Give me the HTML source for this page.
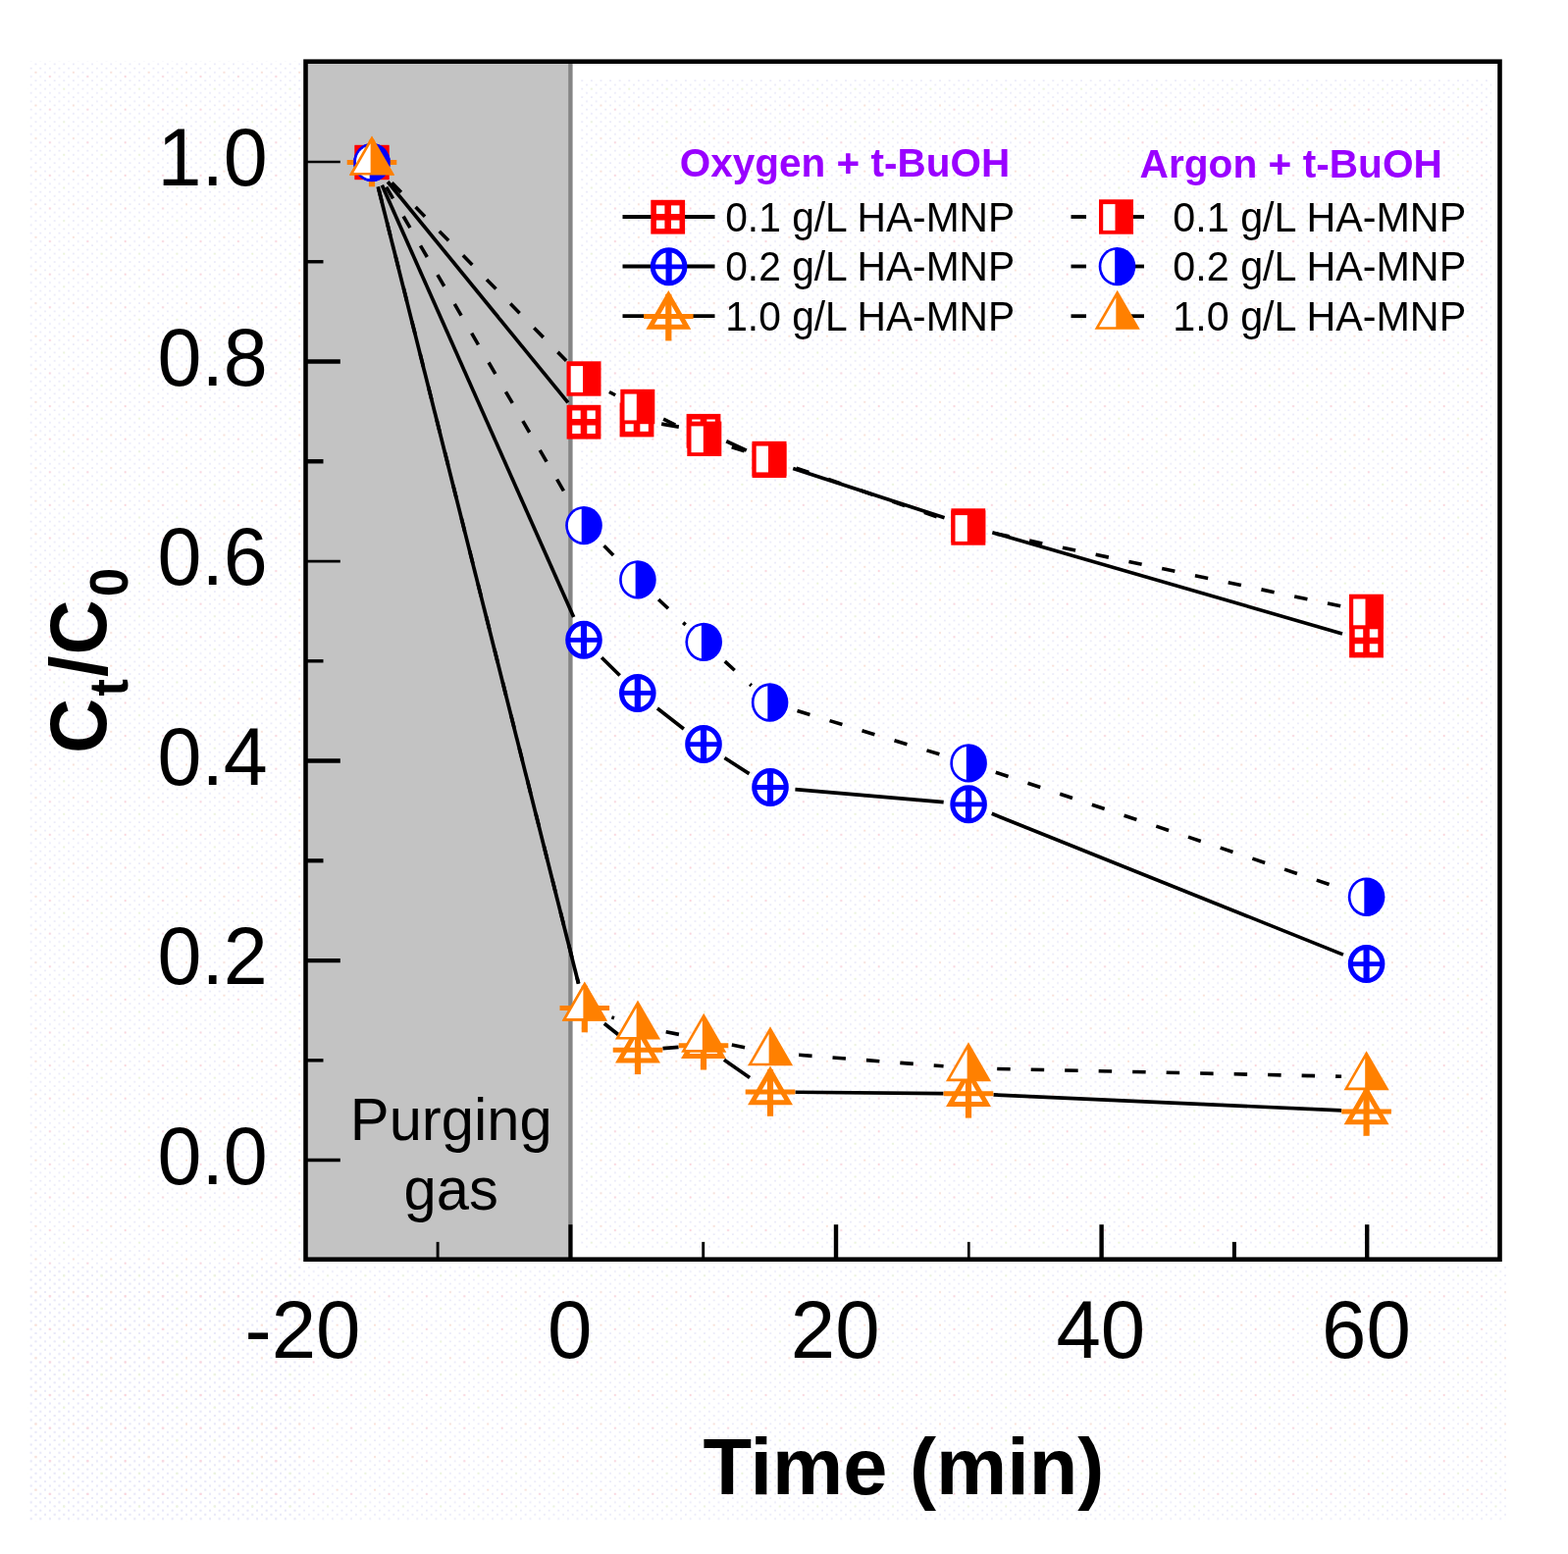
<!DOCTYPE html>
<html lang="en">
<head>
<meta charset="utf-8">
<title>Ct/C0 vs Time - HA-MNP with t-BuOH</title>
<style>
html,body{margin:0;padding:0;background:#fff;}
body{width:1598px;height:1584px;overflow:hidden;}
svg{display:block;}
</style>
</head>
<body>
<svg width="1598" height="1584" viewBox="0 0 1598 1584" role="img" aria-label="Ct/C0 versus time for HA-MNP with t-BuOH under oxygen and argon">
<rect x="0" y="0" width="1598" height="1584" fill="#ffffff"/>
<defs><pattern id="dots" width="9.6" height="8.4" patternUnits="userSpaceOnUse"><rect x="2" y="1.6" width="1.7" height="1.7" fill="#e7e7f8"/><rect x="6.8" y="5.8" width="1.7" height="1.7" fill="#e7e7f8"/></pattern><pattern id="dots2" width="38.4" height="33.6" patternUnits="userSpaceOnUse"><rect x="11.6" y="10" width="1.7" height="1.7" fill="#ffd0d6"/><rect x="26" y="22.6" width="1.7" height="1.7" fill="#ecf8d4"/><rect x="35.6" y="5.8" width="1.7" height="1.7" fill="#ffe0d0"/></pattern></defs>
<rect x="28" y="62" width="281" height="1489" fill="url(#dots)"/>
<rect x="28" y="62" width="281" height="1489" fill="url(#dots2)"/>
<rect x="28" y="1290" width="1507" height="261" fill="url(#dots)"/>
<rect x="28" y="1290" width="1507" height="261" fill="url(#dots2)"/>
<rect x="590" y="80" width="930" height="1192" fill="url(#dots)"/>
<rect x="590" y="80" width="930" height="1192" fill="url(#dots2)"/>
<rect x="311.5" y="62.7" width="269.9" height="1221" fill="#c3c3c3"/>
<line x1="581.4" y1="62.7" x2="581.4" y2="1283.7" stroke="#858585" stroke-width="4.4"/>
<g stroke="#000" fill="none">
<line x1="446.1" y1="1283.7" x2="446.1" y2="1265.9" stroke-width="2.9"/>
<line x1="581.4" y1="1283.7" x2="581.4" y2="1248.2" stroke-width="4.1"/>
<line x1="716.7" y1="1283.7" x2="716.7" y2="1265.9" stroke-width="2.9"/>
<line x1="852" y1="1283.7" x2="852" y2="1248.2" stroke-width="4.4"/>
<line x1="987.3" y1="1283.7" x2="987.3" y2="1265.9" stroke-width="2.7"/>
<line x1="1122.6" y1="1283.7" x2="1122.6" y2="1248.2" stroke-width="4.4"/>
<line x1="1257.9" y1="1283.7" x2="1257.9" y2="1265.9" stroke-width="4.0"/>
<line x1="1393.2" y1="1283.7" x2="1393.2" y2="1248.2" stroke-width="4.4"/>
<line x1="311.5" y1="1182.6" x2="346.8" y2="1182.6" stroke-width="3.5"/>
<line x1="311.5" y1="1080.84" x2="329.5" y2="1080.84" stroke-width="3.4"/>
<line x1="311.5" y1="979.08" x2="346.8" y2="979.08" stroke-width="4.4"/>
<line x1="311.5" y1="877.32" x2="329.5" y2="877.32" stroke-width="4.2"/>
<line x1="311.5" y1="775.56" x2="346.8" y2="775.56" stroke-width="4.6"/>
<line x1="311.5" y1="673.8" x2="329.5" y2="673.8" stroke-width="3.4"/>
<line x1="311.5" y1="572.04" x2="346.8" y2="572.04" stroke-width="2.7"/>
<line x1="311.5" y1="470.28" x2="329.5" y2="470.28" stroke-width="4.4"/>
<line x1="311.5" y1="368.52" x2="346.8" y2="368.52" stroke-width="4.6"/>
<line x1="311.5" y1="266.76" x2="329.5" y2="266.76" stroke-width="3.4"/>
<line x1="311.5" y1="165" x2="346.8" y2="165" stroke-width="2.7"/>
</g>
<rect x="311.5" y="62.7" width="1217" height="1221" fill="none" stroke="#000" stroke-width="4.6"/>
<g stroke="#000" stroke-width="3.7" fill="none" stroke-linecap="butt">
<line x1="395.12" y1="185.26" x2="578.88" y2="410.44"/>
<line x1="674.16" y1="432.18" x2="691.84" y2="435.12"/>
<line x1="740.23" y1="449.81" x2="760.77" y2="459.09"/>
<line x1="808.24" y1="477.5" x2="962.56" y2="527.8"/>
<line x1="1011.3" y1="542.78" x2="1368" y2="645.92"/>
<line x1="389.34" y1="188.81" x2="584.66" y2="628.99"/>
<line x1="613.15" y1="670.21" x2="631.65" y2="688.49"/>
<line x1="669.94" y1="722.04" x2="696.86" y2="742.96"/>
<line x1="738.42" y1="772.43" x2="763.58" y2="788.67"/>
<line x1="810.41" y1="804.67" x2="961.69" y2="817.63"/>
<line x1="1010.76" y1="829.3" x2="1368.94" y2="973.1"/>
<line x1="385.22" y1="190.23" x2="589.58" y2="1002.77"/>
<line x1="615.81" y1="1043.3" x2="629.99" y2="1054.5"/>
<line x1="675.44" y1="1068.55" x2="691.56" y2="1067.45"/>
<line x1="737.93" y1="1080.26" x2="764.07" y2="1098.44"/>
<line x1="810.5" y1="1113.23" x2="961.5" y2="1114.57"/>
<line x1="1012.47" y1="1115.94" x2="1367.13" y2="1131.86"/>
<line x1="396.84" y1="183.72" x2="577.16" y2="367.78" stroke-dasharray="13.5 21" stroke-dashoffset="-3.7" stroke-width="3.6"/>
<line x1="617.62" y1="397.77" x2="627.18" y2="402.73" stroke-dasharray="13.5 21" stroke-dashoffset="-3.7" stroke-width="3.6"/>
<line x1="672.77" y1="425.58" x2="694.83" y2="436.22" stroke-dasharray="13.5 21" stroke-dashoffset="-3.7" stroke-width="3.6"/>
<line x1="742.19" y1="454.74" x2="759.61" y2="460.06" stroke-dasharray="13.5 21" stroke-dashoffset="-3.7" stroke-width="3.6"/>
<line x1="808.09" y1="475.87" x2="962.71" y2="529.63" stroke-dasharray="13.5 21" stroke-dashoffset="-3.7" stroke-width="3.6"/>
<line x1="1011.75" y1="543.25" x2="1367.55" y2="618.15" stroke-dasharray="13.5 21" stroke-dashoffset="-3.7" stroke-width="3.6"/>
<line x1="391.85" y1="187.52" x2="582.15" y2="513.58" stroke-dasharray="13.5 21" stroke-dashoffset="-3.7" stroke-width="3.6"/>
<line x1="612.97" y1="553.7" x2="631.93" y2="572.8" stroke-dasharray="13.5 21" stroke-dashoffset="-3.7" stroke-width="3.6"/>
<line x1="668.45" y1="608.4" x2="698.65" y2="636.9" stroke-dasharray="13.5 21" stroke-dashoffset="-3.7" stroke-width="3.6"/>
<line x1="736.02" y1="671.6" x2="765.78" y2="698.8" stroke-dasharray="13.5 21" stroke-dashoffset="-3.7" stroke-width="3.6"/>
<line x1="808.99" y1="723.45" x2="962.71" y2="770.45" stroke-dasharray="13.5 21" stroke-dashoffset="-3.7" stroke-width="3.6"/>
<line x1="1011.27" y1="786.02" x2="1368.43" y2="906.08" stroke-dasharray="13.5 21" stroke-dashoffset="-3.7" stroke-width="3.6"/>
<line x1="385.22" y1="189.93" x2="589.58" y2="1002.47" stroke-dasharray="13.5 21" stroke-dashoffset="-3.7" stroke-width="3.6"/>
<line x1="619.86" y1="1035.64" x2="625.94" y2="1037.76" stroke-dasharray="13.5 21" stroke-dashoffset="-3.7" stroke-width="3.6"/>
<line x1="675.03" y1="1051.08" x2="692.17" y2="1054.42" stroke-dasharray="13.5 21" stroke-dashoffset="-3.7" stroke-width="3.6"/>
<line x1="742.19" y1="1064.35" x2="760.01" y2="1067.95" stroke-dasharray="13.5 21" stroke-dashoffset="-3.7" stroke-width="3.6"/>
<line x1="810.42" y1="1074.99" x2="961.58" y2="1086.81" stroke-dasharray="13.5 21" stroke-dashoffset="-3.7" stroke-width="3.6"/>
<line x1="1012.49" y1="1089.37" x2="1367.11" y2="1097.23" stroke-dasharray="13.5 21" stroke-dashoffset="-3.7" stroke-width="3.6"/>
</g>
<g stroke="#ff0000" fill="#fff"><rect x="364.4" y="150.9" width="29.2" height="29.2" stroke-width="5.6"/><path d="M364.4 165.5H393.6M379 150.9V180.1" fill="none" stroke-width="6.6"/></g>
<g stroke="#ff0000" fill="#fff"><rect x="580.4" y="415.6" width="29.2" height="29.2" stroke-width="5.6"/><path d="M580.4 430.2H609.6M595 415.6V444.8" fill="none" stroke-width="6.6"/></g>
<g stroke="#ff0000" fill="#fff"><rect x="634.4" y="413.4" width="29.2" height="29.2" stroke-width="5.6"/><path d="M634.4 428H663.6M649 413.4V442.6" fill="none" stroke-width="6.6"/></g>
<g stroke="#ff0000" fill="#fff"><rect x="702.4" y="424.7" width="29.2" height="29.2" stroke-width="5.6"/><path d="M702.4 439.3H731.6M717 424.7V453.9" fill="none" stroke-width="6.6"/></g>
<g stroke="#ff0000" fill="#fff"><rect x="769.4" y="455" width="29.2" height="29.2" stroke-width="5.6"/><path d="M769.4 469.6H798.6M784 455V484.2" fill="none" stroke-width="6.6"/></g>
<g stroke="#ff0000" fill="#fff"><rect x="972.2" y="521.1" width="29.2" height="29.2" stroke-width="5.6"/><path d="M972.2 535.7H1001.4M986.8 521.1V550.3" fill="none" stroke-width="6.6"/></g>
<g stroke="#ff0000" fill="#fff"><rect x="1377.9" y="638.4" width="29.2" height="29.2" stroke-width="5.6"/><path d="M1377.9 653H1407.1M1392.5 638.4V667.6" fill="none" stroke-width="6.6"/></g>
<g stroke="#0000ff" fill="#fff"><ellipse cx="379" cy="165.5" rx="16.3" ry="17" stroke-width="5.0"/><path d="M379 149.2V181.8" fill="none" stroke-width="6.2"/><path d="M362.7 165.5H395.3" fill="none" stroke-width="4.8"/></g>
<g stroke="#0000ff" fill="#fff"><ellipse cx="595" cy="652.3" rx="16.3" ry="17" stroke-width="5.0"/><path d="M595 636V668.6" fill="none" stroke-width="6.2"/><path d="M578.7 652.3H611.3" fill="none" stroke-width="4.8"/></g>
<g stroke="#0000ff" fill="#fff"><ellipse cx="649.8" cy="706.4" rx="16.3" ry="17" stroke-width="5.0"/><path d="M649.8 690.1V722.7" fill="none" stroke-width="6.2"/><path d="M633.5 706.4H666.1" fill="none" stroke-width="4.8"/></g>
<g stroke="#0000ff" fill="#fff"><ellipse cx="717" cy="758.6" rx="16.3" ry="17" stroke-width="5.0"/><path d="M717 742.3V774.9" fill="none" stroke-width="6.2"/><path d="M700.7 758.6H733.3" fill="none" stroke-width="4.8"/></g>
<g stroke="#0000ff" fill="#fff"><ellipse cx="785" cy="802.5" rx="16.3" ry="17" stroke-width="5.0"/><path d="M785 786.2V818.8" fill="none" stroke-width="6.2"/><path d="M768.7 802.5H801.3" fill="none" stroke-width="4.8"/></g>
<g stroke="#0000ff" fill="#fff"><ellipse cx="987.1" cy="819.8" rx="16.3" ry="17" stroke-width="5.0"/><path d="M987.1 803.5V836.1" fill="none" stroke-width="6.2"/><path d="M970.8 819.8H1003.4" fill="none" stroke-width="4.8"/></g>
<g stroke="#0000ff" fill="#fff"><ellipse cx="1392.6" cy="982.6" rx="16.3" ry="17" stroke-width="5.0"/><path d="M1392.6 966.3V998.9" fill="none" stroke-width="6.2"/><path d="M1376.3 982.6H1408.9" fill="none" stroke-width="4.8"/></g>
<g stroke="#ff8000" fill="#fff" stroke-linejoin="miter"><polygon points="379,143.96 360.35,176.27 397.65,176.27" stroke-width="5.0"/><path d="M379 142.7V190.3" fill="none" stroke-width="6.2"/><path d="M353.7 165.5H404.3" fill="none" stroke-width="5"/></g>
<g stroke="#ff8000" fill="#fff" stroke-linejoin="miter"><polygon points="595.8,1005.96 577.15,1038.27 614.45,1038.27" stroke-width="5.0"/><path d="M595.8 1004.7V1052.3" fill="none" stroke-width="6.2"/><path d="M570.5 1027.5H621.1" fill="none" stroke-width="5"/></g>
<g stroke="#ff8000" fill="#fff" stroke-linejoin="miter"><polygon points="650,1048.76 631.35,1081.07 668.65,1081.07" stroke-width="5.0"/><path d="M650 1047.5V1095.1" fill="none" stroke-width="6.2"/><path d="M624.7 1070.3H675.3" fill="none" stroke-width="5"/></g>
<g stroke="#ff8000" fill="#fff" stroke-linejoin="miter"><polygon points="717,1044.16 698.35,1076.47 735.65,1076.47" stroke-width="5.0"/><path d="M717 1042.9V1090.5" fill="none" stroke-width="6.2"/><path d="M691.7 1065.7H742.3" fill="none" stroke-width="5"/></g>
<g stroke="#ff8000" fill="#fff" stroke-linejoin="miter"><polygon points="785,1091.46 766.35,1123.77 803.65,1123.77" stroke-width="5.0"/><path d="M785 1090.2V1137.8" fill="none" stroke-width="6.2"/><path d="M759.7 1113H810.3" fill="none" stroke-width="5"/></g>
<g stroke="#ff8000" fill="#fff" stroke-linejoin="miter"><polygon points="987,1093.26 968.35,1125.57 1005.65,1125.57" stroke-width="5.0"/><path d="M987 1092V1139.6" fill="none" stroke-width="6.2"/><path d="M961.7 1114.8H1012.3" fill="none" stroke-width="5"/></g>
<g stroke="#ff8000" fill="#fff" stroke-linejoin="miter"><polygon points="1392.6,1111.46 1373.95,1143.77 1411.25,1143.77" stroke-width="5.0"/><path d="M1392.6 1110.2V1157.8" fill="none" stroke-width="6.2"/><path d="M1367.3 1133H1417.9" fill="none" stroke-width="5"/></g>
<g><rect x="361.5" y="147.8" width="35" height="35.4" fill="#ff0000"/><rect x="365.7" y="152.6" width="12.3" height="26.8" fill="#fff"/></g>
<g><rect x="577.5" y="368.3" width="35" height="35.4" fill="#ff0000"/><rect x="581.7" y="373.1" width="12.3" height="26.8" fill="#fff"/></g>
<g><rect x="632.3" y="396.8" width="35" height="35.4" fill="#ff0000"/><rect x="636.5" y="401.6" width="12.3" height="26.8" fill="#fff"/></g>
<g><rect x="700.3" y="429.6" width="35" height="35.4" fill="#ff0000"/><rect x="704.5" y="434.4" width="12.3" height="26.8" fill="#fff"/></g>
<g><rect x="766.5" y="449.8" width="35" height="35.4" fill="#ff0000"/><rect x="770.7" y="454.6" width="12.3" height="26.8" fill="#fff"/></g>
<g><rect x="969.3" y="520.3" width="35" height="35.4" fill="#ff0000"/><rect x="973.5" y="525.1" width="12.3" height="26.8" fill="#fff"/></g>
<g><rect x="1375" y="605.7" width="35" height="35.4" fill="#ff0000"/><rect x="1379.2" y="610.5" width="12.3" height="26.8" fill="#fff"/></g>
<g><ellipse cx="379" cy="165.5" rx="18.8" ry="19.7" fill="#0000ff"/><path d="M376.7 148.67A16.1 17 0 0 0 376.7 182.33Z" fill="#fff"/></g>
<g><ellipse cx="595" cy="535.6" rx="18.8" ry="19.7" fill="#0000ff"/><path d="M592.7 518.77A16.1 17 0 0 0 592.7 552.43Z" fill="#fff"/></g>
<g><ellipse cx="649.9" cy="590.9" rx="18.8" ry="19.7" fill="#0000ff"/><path d="M647.6 574.07A16.1 17 0 0 0 647.6 607.73Z" fill="#fff"/></g>
<g><ellipse cx="717.2" cy="654.4" rx="18.8" ry="19.7" fill="#0000ff"/><path d="M714.9 637.57A16.1 17 0 0 0 714.9 671.23Z" fill="#fff"/></g>
<g><ellipse cx="784.6" cy="716" rx="18.8" ry="19.7" fill="#0000ff"/><path d="M782.3 699.17A16.1 17 0 0 0 782.3 732.83Z" fill="#fff"/></g>
<g><ellipse cx="987.1" cy="777.9" rx="18.8" ry="19.7" fill="#0000ff"/><path d="M984.8 761.07A16.1 17 0 0 0 984.8 794.73Z" fill="#fff"/></g>
<g><ellipse cx="1392.6" cy="914.2" rx="18.8" ry="19.7" fill="#0000ff"/><path d="M1390.3 897.37A16.1 17 0 0 0 1390.3 931.03Z" fill="#fff"/></g>
<g><polygon points="379,138.53 355.9,178.54 402.1,178.54" fill="#ff8000"/><polygon points="377.6,146.15 360.4,175.94 377.6,175.94" fill="#fff"/></g>
<g><polygon points="595.8,1000.53 572.7,1040.54 618.9,1040.54" fill="#ff8000"/><polygon points="594.4,1008.15 577.2,1037.94 594.4,1037.94" fill="#fff"/></g>
<g><polygon points="650,1019.53 626.9,1059.54 673.1,1059.54" fill="#ff8000"/><polygon points="648.6,1027.15 631.4,1056.94 648.6,1056.94" fill="#fff"/></g>
<g><polygon points="717.2,1032.63 694.1,1072.64 740.3,1072.64" fill="#ff8000"/><polygon points="715.8,1040.25 698.6,1070.04 715.8,1070.04" fill="#fff"/></g>
<g><polygon points="785,1046.33 761.9,1086.34 808.1,1086.34" fill="#ff8000"/><polygon points="783.6,1053.95 766.4,1083.74 783.6,1083.74" fill="#fff"/></g>
<g><polygon points="987,1062.13 963.9,1102.14 1010.1,1102.14" fill="#ff8000"/><polygon points="985.6,1069.75 968.4,1099.54 985.6,1099.54" fill="#fff"/></g>
<g><polygon points="1392.6,1071.13 1369.5,1111.14 1415.7,1111.14" fill="#ff8000"/><polygon points="1391.2,1078.75 1374,1108.54 1391.2,1108.54" fill="#fff"/></g>
<g stroke="#000" stroke-width="3.8">
<line x1="634.5" y1="221" x2="728.5" y2="221"/>
<line x1="1091.5" y1="221" x2="1107" y2="221"/>
<line x1="1150" y1="221" x2="1166" y2="221"/>
<line x1="634.5" y1="271.5" x2="728.5" y2="271.5"/>
<line x1="1091.5" y1="271.5" x2="1107" y2="271.5"/>
<line x1="1150" y1="271.5" x2="1166" y2="271.5"/>
<line x1="634.5" y1="322.2" x2="728.5" y2="322.2"/>
<line x1="1091.5" y1="322.2" x2="1107" y2="322.2"/>
<line x1="1150" y1="322.2" x2="1166" y2="322.2"/>
</g>
<g stroke="#ff0000" fill="#fff"><rect x="666.1" y="206.6" width="29.2" height="29.2" stroke-width="5.6"/><path d="M666.1 221.2H695.3M680.7 206.6V235.8" fill="none" stroke-width="6.6"/></g>
<g stroke="#0000ff" fill="#fff"><ellipse cx="681.6" cy="271.8" rx="16.3" ry="17" stroke-width="5.0"/><path d="M681.6 255.5V288.1" fill="none" stroke-width="6.2"/><path d="M665.3 271.8H697.9" fill="none" stroke-width="4.8"/></g>
<g stroke="#ff8000" fill="#fff" stroke-linejoin="miter"><polygon points="681.3,301.06 662.65,333.37 699.95,333.37" stroke-width="5.0"/><path d="M681.3 299.8V347.4" fill="none" stroke-width="6.2"/><path d="M656 322.6H706.6" fill="none" stroke-width="5"/></g>
<g><rect x="1120" y="203.3" width="35" height="35.4" fill="#ff0000"/><rect x="1124.2" y="208.1" width="12.3" height="26.8" fill="#fff"/></g>
<g><ellipse cx="1138.5" cy="271.6" rx="18.8" ry="19.7" fill="#0000ff"/><path d="M1136.2 254.77A16.1 17 0 0 0 1136.2 288.43Z" fill="#fff"/></g>
<g><polygon points="1138.7,295.83 1115.6,335.84 1161.8,335.84" fill="#ff8000"/><polygon points="1137.3,303.45 1120.1,333.24 1137.3,333.24" fill="#fff"/></g>
<g font-family="'Liberation Sans', sans-serif" fill="#000">
<text id="lg1_0" transform="translate(739.2 235.8) scale(0.97 1)" font-size="42px" text-anchor="start">0.1 g/L HA-MNP</text>
<text id="lg2_0" transform="translate(1195.3 235.8) scale(0.983 1)" font-size="42px" text-anchor="start">0.1 g/L HA-MNP</text>
<text id="lg1_1" transform="translate(739.2 286.3) scale(0.97 1)" font-size="42px" text-anchor="start">0.2 g/L HA-MNP</text>
<text id="lg2_1" transform="translate(1195.3 286.3) scale(0.983 1)" font-size="42px" text-anchor="start">0.2 g/L HA-MNP</text>
<text id="lg1_2" transform="translate(739.2 337) scale(0.97 1)" font-size="42px" text-anchor="start">1.0 g/L HA-MNP</text>
<text id="lg2_2" transform="translate(1195.3 337) scale(0.983 1)" font-size="42px" text-anchor="start">1.0 g/L HA-MNP</text>
<g font-weight="bold" fill="#9900ff">
<text id="ttl1" transform="translate(692.8 179.8) scale(1.0 1)" font-size="40.5px" text-anchor="start">Oxygen + t-BuOH</text>
<text id="ttl2" transform="translate(1161.6 181.2) scale(1.004 1)" font-size="40.5px" text-anchor="start">Argon + t-BuOH</text>
</g>
<text id="yt0" transform="translate(272.8 1206.6) scale(0.962 1)" font-size="84px" text-anchor="end">0.0</text>
<text id="yt2" transform="translate(272.8 1003.08) scale(0.962 1)" font-size="84px" text-anchor="end">0.2</text>
<text id="yt4" transform="translate(272.8 799.56) scale(0.962 1)" font-size="84px" text-anchor="end">0.4</text>
<text id="yt6" transform="translate(272.8 596.04) scale(0.962 1)" font-size="84px" text-anchor="end">0.6</text>
<text id="yt8" transform="translate(272.8 392.52) scale(0.962 1)" font-size="84px" text-anchor="end">0.8</text>
<text id="yt10" transform="translate(272.8 189) scale(0.962 1)" font-size="84px" text-anchor="end">1.0</text>
<text id="xt0" transform="translate(308.5 1384) scale(0.972 1)" font-size="84px" text-anchor="middle">-20</text>
<text id="xt20" transform="translate(580.6 1384) scale(0.972 1)" font-size="84px" text-anchor="middle">0</text>
<text id="xt40" transform="translate(851.2 1384) scale(0.972 1)" font-size="84px" text-anchor="middle">20</text>
<text id="xt60" transform="translate(1121.8 1384) scale(0.972 1)" font-size="84px" text-anchor="middle">40</text>
<text id="xt80" transform="translate(1392.4 1384) scale(0.972 1)" font-size="84px" text-anchor="middle">60</text>
<text id="pg1" transform="translate(459.7 1162.3) scale(0.982 1)" font-size="60.8px" text-anchor="middle">Purging</text>
<text id="pg2" transform="translate(459.7 1233.4) scale(0.982 1)" font-size="60.8px" text-anchor="middle">gas</text>
<text id="xtitle" transform="translate(920.9 1523.3) scale(0.99 1)" font-size="82px" text-anchor="middle" font-weight="bold">Time (min)</text>
<text id="ytitle" transform="rotate(-90) scale(0.947 1)" font-weight="bold" font-size="82px"><tspan x="-810.98" y="108" font-size="82px">C</tspan><tspan x="-749.52" y="130.5" font-size="56px">t</tspan><tspan x="-728.62" y="108" font-size="82px">/</tspan><tspan x="-704.86" y="108" font-size="82px">C</tspan><tspan x="-642.34" y="130.5" font-size="56px">0</tspan></text>
</g>
</svg>
</body>
</html>
